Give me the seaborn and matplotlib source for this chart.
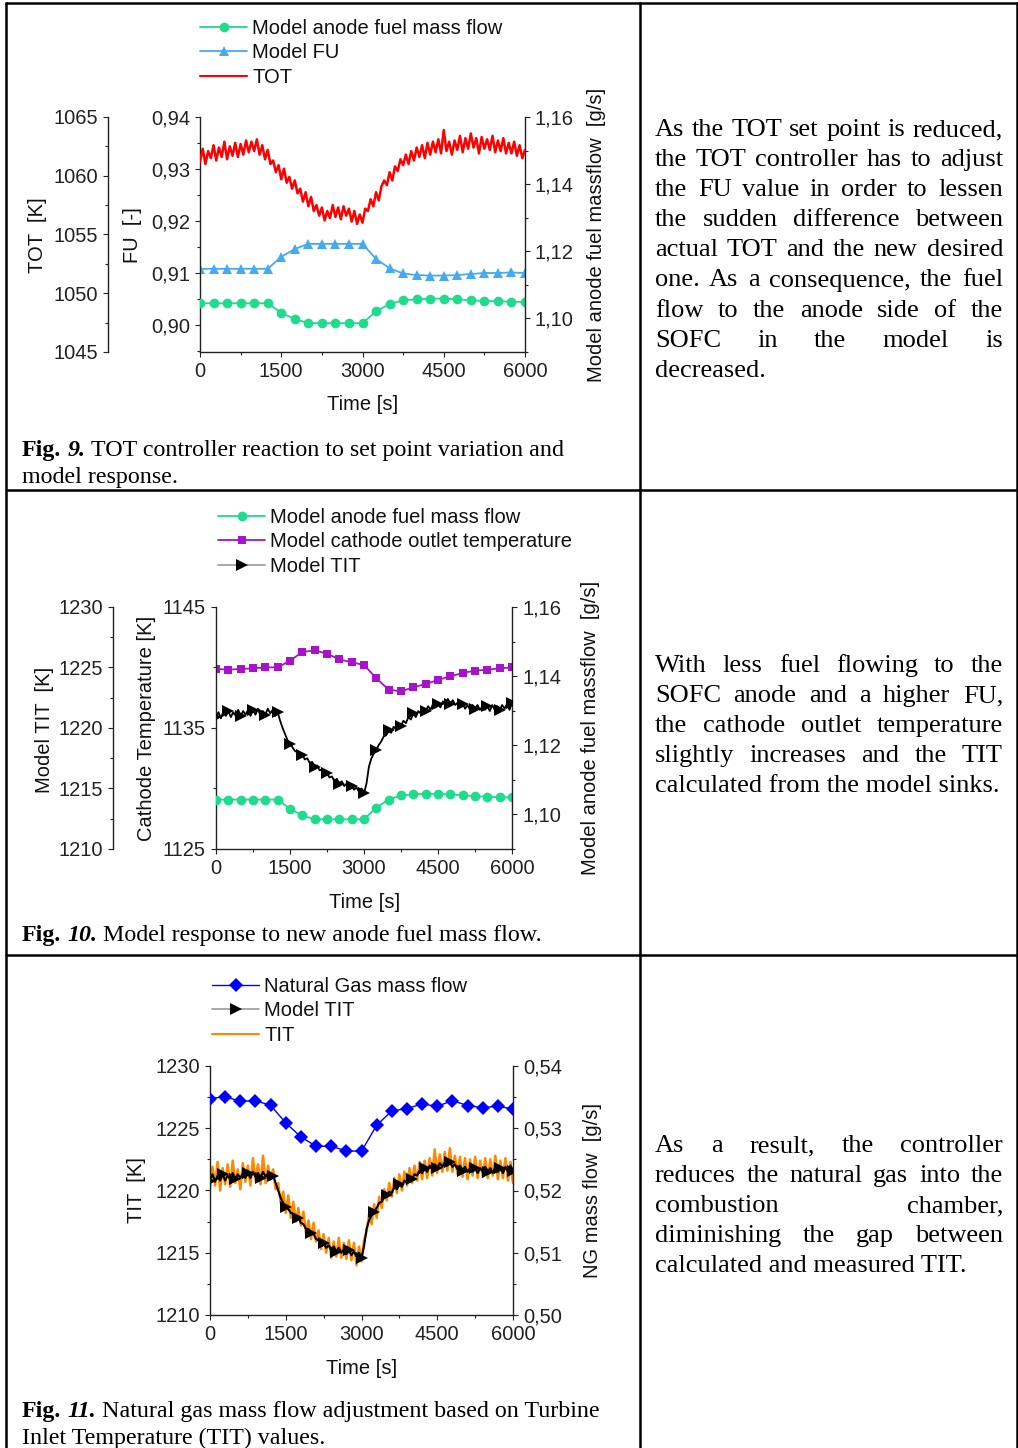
import numpy as np
import seaborn as sns
import matplotlib
matplotlib.use("Agg")
import matplotlib.pyplot as plt
from matplotlib.lines import Line2D
from matplotlib.ticker import MultipleLocator, FixedLocator, FuncFormatter

W, H, DPI = 1018, 1448, 100

# sample times [s]
t_fast = np.arange(0, 6001, 50)     # logged signals
t_mark = np.arange(0, 6001, 250)    # model outputs
t_ng = np.arange(0, 6001, 300)      # natural gas flow

# ---- Fig. 9 ----
fig9_anode_flow = [1.1045, 1.1045, 1.1045, 1.1045, 1.1045, 1.1045, 1.1017, 1.0998, 1.0986,
                   1.0986, 1.0986, 1.0986, 1.0986, 1.1021, 1.1043, 1.1054, 1.1057, 1.1059,
                   1.1059, 1.1057, 1.1054, 1.1052, 1.1051, 1.1050, 1.1049]
fig9_fu = [0.9108, 0.9108, 0.9108, 0.9108, 0.9108, 0.9108, 0.9131, 0.9146, 0.9156,
           0.9156, 0.9156, 0.9156, 0.9156, 0.9127, 0.9109, 0.9099, 0.9096, 0.9095,
           0.9095, 0.9096, 0.9098, 0.9100, 0.9100, 0.9101, 0.9100]
fig9_tot = [1061.2, 1062.3, 1061.0, 1062.1, 1061.5, 1062.6, 1061.3, 1062.4, 1061.6, 1062.9,
            1061.4, 1062.5, 1061.7, 1062.8, 1061.6, 1062.7, 1061.8, 1063.0, 1062.0, 1062.9,
            1062.1, 1063.1, 1061.8, 1062.6, 1061.4, 1062.2, 1061.0, 1061.3, 1060.3, 1060.9,
            1059.7, 1060.6, 1059.4, 1059.9, 1058.9, 1059.6, 1058.5, 1058.9, 1057.8, 1058.6,
            1057.4, 1058.2, 1057.0, 1057.5, 1056.6, 1057.3, 1056.2, 1057.0, 1056.4, 1057.5,
            1056.5, 1057.3, 1056.3, 1057.4, 1056.6, 1057.2, 1056.1, 1057.0, 1055.9, 1056.7,
            1056.0, 1057.2, 1057.0, 1058.0, 1057.4, 1058.6, 1057.9, 1059.1, 1059.6, 1059.2,
            1060.3, 1059.6, 1060.8, 1060.4, 1061.4, 1060.9, 1061.8, 1061.0, 1062.1, 1061.3,
            1062.4, 1061.6, 1062.6, 1061.5, 1062.8, 1061.8, 1062.9, 1062.0, 1063.1, 1061.9,
            1063.9, 1062.1, 1062.9, 1061.8, 1063.0, 1062.2, 1063.4, 1062.0, 1063.2, 1062.3,
            1063.6, 1062.4, 1063.2, 1061.9, 1063.3, 1062.3, 1063.1, 1062.2, 1063.4, 1062.0,
            1063.0, 1062.1, 1063.2, 1061.9, 1062.8, 1061.9, 1062.9, 1061.7, 1062.6, 1061.5,
            1062.2]

# ---- Fig. 10 ----
fig10_anode_flow = [1.1043, 1.1043, 1.1043, 1.1043, 1.1043, 1.1043, 1.1016, 1.0997, 1.0986,
                    1.0986, 1.0986, 1.0986, 1.0986, 1.1020, 1.1043, 1.1055, 1.1058, 1.1060,
                    1.1059, 1.1058, 1.1055, 1.1053, 1.1051, 1.1050, 1.1049]
fig10_cathode = [1139.88, 1139.82, 1139.88, 1139.93, 1140.01, 1140.01, 1140.56, 1141.28,
                 1141.42, 1141.14, 1140.67, 1140.43, 1140.21, 1139.11, 1138.17, 1138.03,
                 1138.36, 1138.64, 1138.97, 1139.27, 1139.55, 1139.74, 1139.82, 1139.93,
                 1140.01]
fig10_tit = [1220.9, 1221.3, 1220.8, 1221.4, 1221.0, 1221.4, 1220.9, 1221.3, 1221.0, 1221.5,
             1221.0, 1221.4, 1221.1, 1221.5, 1221.0, 1221.5, 1221.1, 1221.6, 1221.0, 1221.4,
             1221.1, 1221.6, 1221.2, 1221.5, 1221.0, 1221.3, 1220.6, 1220.0, 1219.5, 1219.0,
             1218.7, 1218.4, 1218.1, 1218.0, 1217.7, 1217.8, 1217.4, 1217.5, 1217.1, 1217.2,
             1216.8, 1216.9, 1216.5, 1216.6, 1216.2, 1216.3, 1215.9, 1216.0, 1215.6, 1215.8,
             1215.4, 1215.6, 1215.2, 1215.4, 1215.0, 1215.2, 1214.9, 1215.1, 1214.7, 1215.0,
             1214.6, 1215.4, 1216.8, 1217.5, 1217.9, 1218.2, 1218.6, 1218.9, 1219.3, 1219.4,
             1219.8, 1219.6, 1220.1, 1219.9, 1220.3, 1220.2, 1220.6, 1220.4, 1220.9, 1220.7,
             1221.2, 1220.9, 1221.4, 1221.2, 1221.6, 1221.4, 1221.8, 1221.5, 1222.0, 1221.7,
             1222.0, 1221.7, 1222.2, 1221.8, 1222.4, 1222.0, 1222.3, 1221.9, 1222.1, 1221.7,
             1222.0, 1221.6, 1221.9, 1221.5, 1221.9, 1221.6, 1221.9, 1221.5, 1221.8, 1221.5,
             1221.8, 1221.4, 1221.9, 1221.5, 1221.8, 1221.5, 1221.9, 1221.6, 1222.0, 1221.5,
             1222.1]

# ---- Fig. 11 ----
fig11_ng = [0.53476, 0.53508, 0.53433, 0.53444, 0.53369, 0.53086, 0.52861, 0.52711, 0.52711,
            0.52636, 0.52631, 0.53048, 0.53278, 0.53316, 0.53390, 0.53353, 0.53444, 0.53364,
            0.53332, 0.53353, 0.53310]
fig11_tit_meas = [1220.2, 1221.9, 1220.4, 1222.3, 1220.0, 1221.8, 1220.5, 1222.1, 1220.3, 1222.4,
                  1220.6, 1221.7, 1220.1, 1222.2, 1220.7, 1222.0, 1220.4, 1222.6, 1220.8, 1222.1,
                  1220.5, 1222.8, 1220.6, 1222.0, 1220.9, 1221.7, 1220.1, 1220.6, 1219.0, 1219.9,
                  1218.2, 1219.6, 1217.8, 1219.1, 1217.5, 1218.6, 1217.2, 1218.3, 1216.6, 1217.6,
                  1216.1, 1217.4, 1215.9, 1216.8, 1215.3, 1216.5, 1215.0, 1216.2, 1214.6, 1215.9,
                  1214.7, 1216.2, 1214.6, 1215.8, 1214.5, 1216.0, 1214.4, 1215.8, 1214.0, 1215.5,
                  1214.3, 1216.0, 1216.7, 1218.1, 1217.3, 1218.9, 1217.8, 1219.5, 1218.6, 1220.1,
                  1219.2, 1220.6, 1219.5, 1221.0, 1219.8, 1221.3, 1220.0, 1221.5, 1220.4, 1221.8,
                  1220.6, 1222.0, 1220.8, 1222.3, 1220.9, 1222.4, 1221.0, 1222.6, 1221.2, 1223.3,
                  1221.4, 1222.9, 1221.5, 1223.1, 1221.6, 1223.4, 1221.5, 1222.8, 1221.3, 1222.7,
                  1221.1, 1222.6, 1220.9, 1222.5, 1221.2, 1222.7, 1221.0, 1222.4, 1221.1, 1222.6,
                  1221.0, 1222.5, 1221.2, 1222.8, 1220.9, 1222.4, 1221.0, 1222.6, 1220.8, 1222.3,
                  1220.6]
fig11_tit_model = [1220.8, 1221.3, 1220.7, 1221.2, 1220.8, 1221.3, 1220.8, 1221.2, 1220.9, 1221.4,
                   1220.9, 1221.3, 1221.0, 1221.4, 1221.0, 1221.4, 1221.0, 1221.5, 1221.1, 1221.4,
                   1221.0, 1221.5, 1221.1, 1221.4, 1220.9, 1221.2, 1220.6, 1220.0, 1219.4, 1219.0,
                   1218.7, 1218.5, 1218.2, 1218.1, 1217.8, 1217.8, 1217.4, 1217.3, 1216.9, 1216.9,
                   1216.6, 1216.5, 1216.1, 1216.0, 1215.7, 1215.8, 1215.4, 1215.6, 1215.2, 1215.5,
                   1215.1, 1215.4, 1215.0, 1215.3, 1214.9, 1215.2, 1214.8, 1215.1, 1214.7, 1215.0,
                   1214.6, 1215.5, 1216.9, 1217.6, 1218.0, 1218.3, 1218.6, 1219.0, 1219.1, 1219.5,
                   1219.6, 1219.9, 1219.8, 1220.3, 1220.1, 1220.5, 1220.3, 1220.8, 1220.6, 1221.0,
                   1220.9, 1221.3, 1221.2, 1221.6, 1221.4, 1221.8, 1221.5, 1222.0, 1221.7, 1222.1,
                   1221.8, 1222.2, 1221.9, 1222.3, 1222.0, 1222.3, 1221.9, 1222.1, 1221.7, 1222.0,
                   1221.6, 1221.9, 1221.5, 1221.8, 1221.5, 1221.8, 1221.4, 1221.8, 1221.5, 1221.9,
                   1221.5, 1221.8, 1221.4, 1221.9, 1221.5, 1221.8, 1221.4, 1221.9, 1221.5, 1222.0,
                   1221.6]

# ---- text ----
captions = {
    9: ["TOT controller reaction to set point variation and", "model response."],
    10: ["Model response to new anode fuel mass flow."],
    11: ["Natural gas mass flow adjustment based on Turbine", "Inlet Temperature (TIT) values."],
}
body_9 = ["As the TOT set point is reduced,", "the TOT controller has to adjust",
          "the FU value in order to lessen", "the sudden difference between",
          "actual TOT and the new desired", "one. As a consequence, the fuel",
          "flow to the anode side of the", "SOFC in the model is", "decreased."]
body_10 = ["With less fuel flowing to the", "SOFC anode and a higher FU,",
           "the cathode outlet temperature", "slightly increases and the TIT",
           "calculated from the model sinks."]
body_11 = ["As a result, the controller", "reduces the natural gas into the",
           "combustion chamber,", "diminishing the gap between",
           "calculated and measured TIT."]

GREEN = "#1EDC8C"
LTBLUE = "#45AAF2"
PURPLE = "#A812CC"
FS = 14.5

sns.set_theme(style="ticks")
plt.rcParams["font.family"] = ["Liberation Sans", "DejaVu Sans"]
plt.rcParams.update({"text.color": "#111111", "axes.labelcolor": "#111111",
                     "xtick.color": "#222222", "ytick.color": "#222222"})
SERIF = ["Liberation Serif", "DejaVu Serif"]

fig = plt.figure(figsize=(W / DPI, H / DPI), dpi=DPI)
fig.patch.set_facecolor("white")


def px_axes(box):
    x0, x1, ytop, ybot = box
    return fig.add_axes([x0 / W, 1 - ybot / H, (x1 - x0) / W, (ybot - ytop) / H])


def comma(dec):
    return FuncFormatter(lambda v, p: f"{v:.{dec}f}".replace(".", ","))


def style_y(ax, side, lim, major, minor, dec):
    ax.set_ylim(*lim)
    ax.yaxis.set_major_locator(FixedLocator(major) if isinstance(major, list) else MultipleLocator(major))
    ax.yaxis.set_minor_locator(FixedLocator(minor) if isinstance(minor, list) else MultipleLocator(minor))
    ax.yaxis.set_major_formatter(comma(dec))
    ax.yaxis.set_ticks_position(side)
    ax.tick_params(axis="y", which="both", direction="out", labelsize=FS, pad=3.6, width=0.8)
    ax.tick_params(axis="y", which="major", length=3.6)
    ax.tick_params(axis="y", which="minor", length=2.2)
    for s in ax.spines.values():
        s.set_visible(False)
    ax.spines[side].set_visible(True)
    ax.spines[side].set_linewidth(1.0)
    ax.spines[side].set_color("#222222")


def style_x(ax):
    ax.set_xlim(0, 6000)
    ax.xaxis.set_major_locator(MultipleLocator(1500))
    ax.xaxis.set_minor_locator(MultipleLocator(750))
    ax.tick_params(axis="x", which="both", direction="out", labelsize=FS, pad=3.6, width=0.8)
    ax.tick_params(axis="x", which="major", length=3.6)
    ax.tick_params(axis="x", which="minor", length=2.2)
    ax.spines["bottom"].set_visible(True)
    ax.spines["bottom"].set_linewidth(1.0)
    ax.spines["bottom"].set_color("#222222")


def ylabel(ax, box, text, px, py):
    x0, x1, ytop, ybot = box
    ax.set_ylabel(text, fontsize=FS)
    ax.yaxis.set_label_coords((px - x0) / (x1 - x0), (ybot - py) / (ybot - ytop))
    ax.yaxis.label.set_va("center")
    ax.yaxis.label.set_ha("center")


def xlabel(ax, box, text, px, py):
    x0, x1, ytop, ybot = box
    ax.set_xlabel(text, fontsize=FS)
    ax.xaxis.set_label_coords((px - x0) / (x1 - x0), (ybot - py) / (ybot - ytop))
    ax.xaxis.label.set_va("center")


def outer_axis(ax, offset_px):
    ax_o = ax.twinx()
    ax_o.yaxis.set_label_position("left")
    ax_o.spines["left"].set_position(("outward", offset_px * 72 / DPI))
    return ax_o


def legend(handles, labels, px, py):
    fig.legend(handles, labels, loc="upper left", bbox_to_anchor=(px / W, 1 - py / H),
               frameon=False, fontsize=FS, handlelength=2.35, handletextpad=0.25,
               labelspacing=0.27, borderpad=0, borderaxespad=0)


def caption(x, y, num, lines, size=17.25):
    r = fig.canvas.get_renderer()
    space = 0.25 * size * DPI / 72
    pieces = [("Fig.", "bold", "normal"), (f"{num}.", "bold", "italic"), (lines[0], "normal", "normal")]
    for text, weight, style in pieces:
        t = fig.text(x / W, 1 - y / H, text, fontsize=size, family=SERIF,
                     weight=weight, style=style, va="baseline", color="black")
        x += t.get_window_extent(r).width + space
    for i, line in enumerate(lines[1:], start=1):
        fig.text(22 / W, 1 - (y + 27 * i) / H, line, fontsize=size, family=SERIF,
                 va="baseline", color="black")


def justify(lines, y0, x_left=655, x_right=1003, dy=30.1, size=19):
    r = fig.canvas.get_renderer()
    for i, line in enumerate(lines):
        y = 1 - (y0 + i * dy) / H
        words = line.split()
        if i == len(lines) - 1 or len(words) == 1:
            fig.text(x_left / W, y, line, fontsize=size, family=SERIF, va="baseline", color="black")
            continue
        arts = [fig.text(0, y, w, fontsize=size, family=SERIF, va="baseline", color="black")
                for w in words]
        widths = [a.get_window_extent(r).width for a in arts]
        gap = (x_right - x_left - sum(widths)) / (len(words) - 1)
        x = x_left
        for a, w in zip(arts, widths):
            a.set_x(x / W)
            x += w + gap


# ================= Fig. 9 =================
box9 = (200, 525, 117, 352)
ax9 = px_axes(box9)
ax9_r = ax9.twinx()
ax9_o = outer_axis(ax9, 92)

sns.lineplot(x=t_fast, y=fig9_tot, ax=ax9_o, color="red", linewidth=1.8)
sns.lineplot(x=t_mark, y=fig9_fu, ax=ax9, color=LTBLUE, linewidth=1.3,
             marker="^", markersize=7, markeredgewidth=0)
sns.lineplot(x=t_mark, y=fig9_anode_flow, ax=ax9_r, color=GREEN, linewidth=1.3,
             marker="o", markersize=7, markeredgewidth=0)

style_y(ax9, "left", (0.8948, 0.94), 0.01, 0.005, 2)
style_y(ax9_r, "right", (1.09, 1.16), 0.02, 0.01, 2)
style_y(ax9_o, "left", (1045, 1065), 5, 2.5, 0)
style_x(ax9)
ylabel(ax9_o, box9, "TOT  [K]", 37, 235)
ylabel(ax9, box9, "FU  [-]", 133, 235)
ylabel(ax9_r, box9, "Model anode fuel massflow  [g/s]", 596, 235)
xlabel(ax9, box9, "Time [s]", 363, 405)
legend([Line2D([], [], color=GREEN, marker="o", ms=7, mew=0, lw=1.3),
        Line2D([], [], color=LTBLUE, marker="^", ms=7, mew=0, lw=1.3),
        Line2D([], [], color="red", lw=1.5)],
       ["Model anode fuel mass flow", "Model FU", "TOT"], 200, 19)
caption(22, 456, 9, captions[9])
justify(body_9, 136)

# ================= Fig. 10 =================
box10 = (216, 512, 607, 849)
ax10 = px_axes(box10)
ax10_r = ax10.twinx()
ax10_o = outer_axis(ax10, 103)

sns.lineplot(x=t_fast, y=fig10_tit, ax=ax10_o, color="black", linewidth=1.3,
             marker=">", markersize=9, markevery=5, markeredgewidth=0)
sns.lineplot(x=t_mark, y=fig10_cathode, ax=ax10, color=PURPLE, linewidth=1.3,
             marker="s", markersize=6, markeredgewidth=0)
sns.lineplot(x=t_mark, y=fig10_anode_flow, ax=ax10_r, color=GREEN, linewidth=1.3,
             marker="o", markersize=7, markeredgewidth=0)

style_y(ax10, "left", (1125, 1145), [1125, 1135, 1145], [1130, 1140], 0)
style_y(ax10_r, "right", (1.09, 1.16), 0.02, 0.01, 2)
style_y(ax10_o, "left", (1210, 1230), 5, 2.5, 0)
style_x(ax10)
ylabel(ax10_o, box10, "Model TIT  [K]", 44, 730)
ylabel(ax10, box10, "Cathode Temperature [K]", 146, 728)
ylabel(ax10_r, box10, "Model anode fuel massflow  [g/s]", 590, 728)
xlabel(ax10, box10, "Time [s]", 365, 902)
legend([Line2D([], [], color=GREEN, marker="o", ms=7, mew=0, lw=1.3),
        Line2D([], [], color=PURPLE, marker="s", ms=6, mew=0, lw=1.3),
        Line2D([], [], color="#9a9a9a", marker=">", ms=9, mew=0, mfc="black", lw=1.2)],
       ["Model anode fuel mass flow", "Model cathode outlet temperature", "Model TIT"], 218, 508)
caption(22, 941, 10, captions[10])
justify(body_10, 672)

# ================= Fig. 11 =================
box11 = (210, 513, 1066, 1315)
ax11 = px_axes(box11)
ax11_r = ax11.twinx()

sns.lineplot(x=t_fast, y=fig11_tit_meas, ax=ax11, color="#FF8800", linewidth=1.8)
sns.lineplot(x=t_fast, y=fig11_tit_model, ax=ax11, color="black", linewidth=1.5,
             marker=">", markersize=9, markevery=5, markeredgewidth=0)
sns.lineplot(x=t_ng, y=fig11_ng, ax=ax11_r, color="blue", linewidth=1.0,
             marker="D", markersize=7.5, markeredgewidth=0)

style_y(ax11, "left", (1210, 1230), 5, 2.5, 0)
style_y(ax11_r, "right", (0.50, 0.54), 0.01, 0.005, 2)
style_x(ax11)
ylabel(ax11, box11, "TIT  [K]", 137, 1190)
ylabel(ax11_r, box11, "NG mass flow  [g/s]", 593, 1190)
xlabel(ax11, box11, "Time [s]", 362, 1368)
legend([Line2D([], [], color="blue", marker="D", ms=7.5, mew=0, lw=1.0),
        Line2D([], [], color="#9a9a9a", marker=">", ms=9, mew=0, mfc="black", lw=1.2),
        Line2D([], [], color="#FF8800", lw=1.5)],
       ["Natural Gas mass flow", "Model TIT", "TIT"], 212, 977)
caption(22, 1417, 11, captions[11])
justify(body_11, 1152)

# ================= table frame =================
def rule(x0, y0, x1, y1):
    fig.add_artist(Line2D([x0 / W, x1 / W], [1 - y0 / H, 1 - y1 / H],
                          transform=fig.transFigure, color="black", lw=1.8))


rule(6, 3, 1017, 3)
rule(6, 490, 1017, 490)
rule(6, 955, 1017, 955)
rule(6, 3, 6, H)
rule(640, 3, 640, H)
rule(1017, 3, 1017, H)

fig.savefig("out.png", dpi=DPI)
